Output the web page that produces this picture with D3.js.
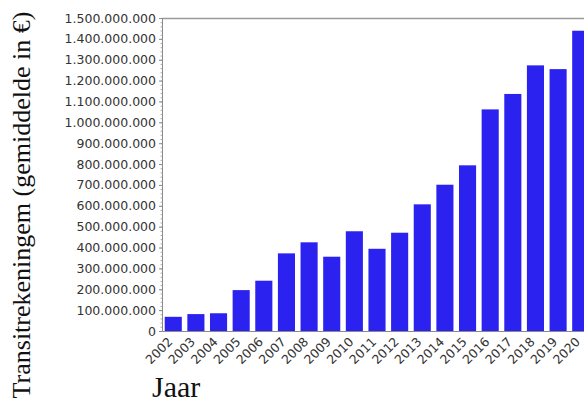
<!DOCTYPE html>
<html>
<head>
<meta charset="utf-8">
<script src="https://cdnjs.cloudflare.com/ajax/libs/d3/7.8.5/d3.min.js"></script>
<style>
  body { margin: 0; background: #fff; }
  svg { display: block; }
</style>
</head>
<body>
<svg id="chart" width="584" height="403"></svg>
<script>
// jaren en transitrekeningen (gemiddelde in euro)
var years = ["2002","2003","2004","2005","2006","2007","2008","2009","2010","2011",
             "2012","2013","2014","2015","2016","2017","2018","2019","2020"];
var amounts = [68e6, 81e6, 85e6, 196e6, 241e6, 372e6, 425e6, 356e6, 478e6, 394e6,
               471e6, 607e6, 701e6, 794e6, 1062e6, 1136e6, 1273e6, 1255e6, 1439e6];
var yTicks = d3.range(0, 1500000001, 100000000);

var margin = {top: 18, left: 162, bottom: 72},
    plotW = 430,
    plotH = 403 - margin.top - margin.bottom;

var svg = d3.select("#chart");
var g = svg.append("g").attr("transform", "translate(" + margin.left + "," + margin.top + ")");

var x = d3.scaleBand().domain(years).range([0, plotW]).paddingInner(0.245).paddingOuter(0.12);
var y = d3.scaleLinear().domain([0, 1500000000]).range([plotH, 0]);

var fmt = function(d){ return d3.format(",")(d).replace(/,/g, "."); };

// frame top
g.append("line")
    .attr("x1", 0).attr("x2", plotW).attr("y1", 0.5).attr("y2", 0.5)
    .attr("stroke", "#9a9a9a").attr("stroke-width", 1.5);

g.selectAll("rect.bar")
    .data(amounts)
    .enter()
    .append("rect")
    .attr("class", "bar")
    .attr("x", function(d, i){ return x(years[i]); })
    .attr("width", x.bandwidth())
    .attr("y", function(d){ return y(d); })
    .attr("height", function(d){ return plotH - y(d); })
    .attr("fill", "#2b22f0");

// small minor ticks along the y axis
g.append("g")
    .call(d3.axisLeft(y).ticks(75).tickFormat("").tickSize(1.5))
    .call(function(a){ a.select(".domain").remove(); })
    .selectAll(".tick line").attr("stroke", "#b0b0b0");

var yAxis = g.append("g")
    .call(d3.axisLeft(y).tickValues(yTicks).tickFormat(fmt).tickSize(3).tickPadding(3));
yAxis.select(".domain").attr("stroke", "#8a8a8a");
yAxis.selectAll(".tick line").attr("stroke", "#8a8a8a");
yAxis.selectAll("text")
    .attr("font-family", "DejaVu Sans, sans-serif")
    .attr("font-size", 12.5)
    .attr("fill", "#333");

var xAxis = g.append("g")
    .attr("transform", "translate(0," + plotH + ")")
    .call(d3.axisBottom(x).tickSize(0).tickPadding(2));
xAxis.select(".domain").attr("stroke", "#8a8a8a");
xAxis.selectAll("text")
    .attr("font-family", "DejaVu Sans, sans-serif")
    .attr("font-size", 12.5)
    .attr("fill", "#333")
    .attr("text-anchor", "end")
    .attr("dy", "0.5em")
    .attr("dx", "-0.65em")
    .attr("transform", "rotate(-45)");

svg.append("text")
    .attr("x", 152).attr("y", 397)
    .attr("font-family", "Liberation Serif, serif")
    .attr("font-size", 30)
    .attr("fill", "#111")
    .text("Jaar");

svg.append("text")
    .attr("transform", "translate(30,205) rotate(-90)")
    .attr("text-anchor", "middle")
    .attr("font-family", "Liberation Serif, serif")
    .attr("font-size", 26)
    .attr("fill", "#111")
    .text("Transitrekeningem (gemiddelde in €)");
</script>
</body>
</html>
